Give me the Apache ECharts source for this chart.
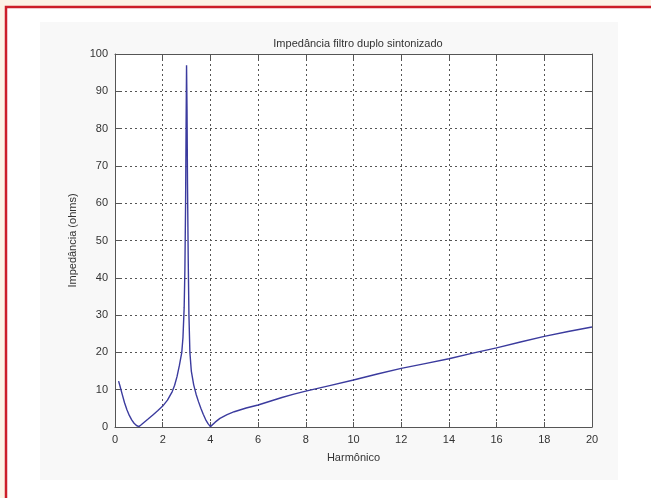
<!DOCTYPE html>
<html>
<head>
<meta charset="utf-8">
<script src="https://cdn.jsdelivr.net/npm/echarts@6/dist/echarts.min.js"></script>
<style>
html,body{margin:0;padding:0;background:#fcf3e6;}
#c{width:651px;height:498px;}
</style>
</head>
<body>
<div id="c"></div>
<script>
var titleText = "Impedância filtro duplo sintonizado";
var xAxisName = "Harmônico";
var yAxisName = "Impedância (ohms)";
var xTicks = [0,2,4,6,8,10,12,14,16,18,20];
var yTicks = [0,10,20,30,40,50,60,70,80,90,100];
var harmonic = [0.15,0.2,0.3,0.4,0.5,0.6,0.7,0.8,0.9,1.0,1.1,1.25,1.4,1.6,1.8,2.0,2.2,2.4,2.5,2.6,2.7,2.8,2.85,2.9,2.93,2.96,2.98,3.0,3.02,3.04,3.07,3.1,3.14,3.2,3.3,3.4,3.5,3.6,3.7,3.8,3.9,4.0,4.2,4.4,4.7,5,5.5,6,6.5,7,7.5,8,9,10,11,12,13,14,15,16,17,18,19,20];
var impedance = [12.3,11.2,8.8,6.5,4.6,3.1,1.9,1.0,0.4,0.1,0.6,1.4,2.2,3.3,4.4,5.6,7.2,9.5,11.2,13.5,16.5,20,24,32,42,60,80,97,85,65,45,30,20,15,11.3,8.8,6.8,5,3.4,2,0.9,0.1,1.3,2.3,3.3,4.1,5.1,5.9,6.9,7.9,8.8,9.6,11.1,12.6,14.2,15.7,17.0,18.3,19.8,21.2,22.8,24.3,25.6,26.8];

var seriesData = harmonic.map(function(h,i){return [h, impedance[i]];});
var chart = echarts.init(document.getElementById('c'), null, {renderer:'canvas'});
var gridStyle = {show:true, lineStyle:{color:'#555', type:[2,3], width:1}};
var font = 'Liberation Sans, Arial, sans-serif';
var option = {
  backgroundColor:'#fcf3e6',
  animation:false,
  graphic:[
    {type:'rect', z:-10, shape:{x:6,y:7,width:660,height:500}, style:{fill:'#ffffff', stroke:'#cc1e28', lineWidth:2.5}},
    {type:'rect', z:-9, shape:{x:40,y:22,width:578,height:458}, style:{fill:'#f8f8f8'}},
    {type:'rect', z:-8, shape:{x:115,y:54,width:477,height:373}, style:{fill:'#ffffff'}}
  ],
  title:{text:titleText, left:353, textAlign:'center', top:33,
    textStyle:{fontSize:11, fontWeight:'normal', color:'#333', fontFamily:font}},
  grid:{left:115, right:59, top:54, bottom:71, containLabel:false},
  xAxis:[{
    type:'value', min:0, max:20, interval:2,
    name:xAxisName, nameLocation:'middle', nameGap:25,
    nameTextStyle:{fontSize:11, color:'#333', fontFamily:font},
    axisLine:{show:true, onZero:false, lineStyle:{color:'#555', width:1}},
    axisTick:{show:true, inside:true, length:5, lineStyle:{color:'#555'}},
    axisLabel:{margin:7, fontSize:11, color:'#333', fontFamily:font, formatter:function(v){return xTicks.indexOf(v)>=0? String(v):'';}},
    splitLine:gridStyle
  },{
    type:'value', min:0, max:20, interval:2, position:'top',
    axisLine:{show:true, onZero:false, lineStyle:{color:'#555', width:1}},
    axisTick:{show:true, inside:true, length:5, lineStyle:{color:'#555'}},
    axisLabel:{show:false}, splitLine:{show:false}
  }],
  yAxis:[{
    type:'value', min:0, max:100, interval:10,
    name:yAxisName, nameLocation:'middle', nameGap:31,
    nameTextStyle:{fontSize:11, color:'#333', fontFamily:font},
    axisLine:{show:true, onZero:false, lineStyle:{color:'#555', width:1}},
    axisTick:{show:true, inside:true, length:5, lineStyle:{color:'#555'}},
    axisLabel:{margin:7, fontSize:11, color:'#333', fontFamily:font, formatter:function(v){return yTicks.indexOf(v)>=0? String(v):'';}},
    splitLine:gridStyle
  },{
    type:'value', min:0, max:100, interval:10, position:'right',
    axisLine:{show:true, onZero:false, lineStyle:{color:'#555', width:1}},
    axisTick:{show:true, inside:true, length:5, lineStyle:{color:'#555'}},
    axisLabel:{show:false}, splitLine:{show:false}
  }],
  series:[{
    type:'line', data:seriesData, xAxisIndex:0, yAxisIndex:0,
    showSymbol:false, smooth:false,
    lineStyle:{color:'#3b3b9e', width:1.4}
  }]
};
chart.setOption(option);
</script>
</body>
</html>
